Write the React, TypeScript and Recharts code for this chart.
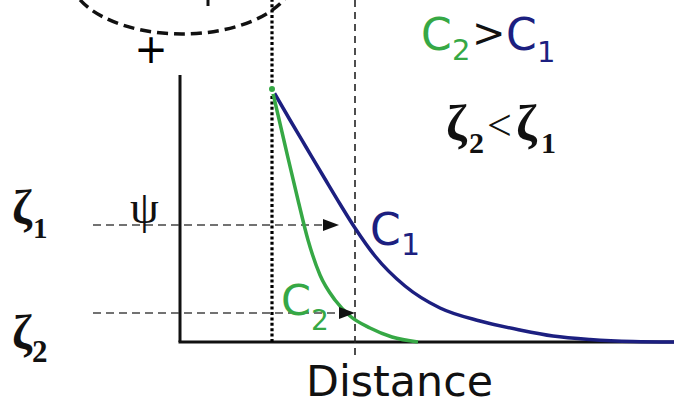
import {
  ComposedChart,
  Line,
  XAxis,
  YAxis,
  ReferenceLine,
  ReferenceDot,
} from "recharts";

// distance from the surface (arbitrary units) and potential psi
const c1Distance = [9.2, 11.0, 12.6, 14.5, 16.0, 17.5, 19.5, 22.5, 26.0, 30.0, 34.0, 37.3, 41.0, 45.3, 49.4];
const c1Psi = [25.3, 22.2, 19.5, 16.3, 13.8, 11.4, 8.6, 5.6, 3.4, 2.1, 1.2, 0.6, 0.25, 0.05, 0.0];

const c2Distance = [9.2, 10.5, 11.8, 12.8, 14.0, 15.5, 17.0, 19.0, 21.2, 23.8];
const c2Psi = [25.3, 19.7, 14.2, 10.2, 6.7, 4.2, 2.6, 1.4, 0.5, 0.0];

const zetaLevels = [11.7, 2.9];
const zetaArrowTips = [15.9, 17.5];
const wallDistance = 9.2;
const shearDistance = 17.5;

const C1_COLOR = "#1c1f80";
const C2_COLOR = "#36a845";

const toPoints = (ds: number[], ps: number[]) =>
  ds.map((d, i) => ({ d, psi: ps[i] }));

const c1Data = toPoints(c1Distance, c1Psi);
const c2Data = toPoints(c2Distance, c2Psi);

function Arrowhead(props: any) {
  const { cx, cy } = props;
  return (
    <path
      d={`M${cx},${cy} L${cx - 16},${cy - 6} L${cx - 16},${cy + 6} Z`}
      fill="#111"
    />
  );
}

const serif = "'Liberation Serif', 'Times New Roman', serif";
const sans = "'DejaVu Sans', Verdana, sans-serif";

export default function App() {
  return (
    <div
      style={{
        position: "absolute",
        left: 0,
        top: 0,
        width: 674,
        height: 407,
        background: "#fff",
      }}
    >
      <ComposedChart
        width={674}
        height={407}
        margin={{ top: 0, right: 0, bottom: 0, left: 0 }}
      >
        <XAxis
          type="number"
          dataKey="d"
          domain={[-18, 49.4]}
          allowDataOverflow
          hide
        />
        <YAxis type="number" domain={[-6.5, 34.2]} allowDataOverflow hide />

        {/* axes */}
        <ReferenceLine
          segment={[{ x: 0, y: 0 }, { x: 0, y: 26.7 }]}
          stroke="#111"
          strokeWidth={3}
          ifOverflow="visible"
        />
        <ReferenceLine
          segment={[{ x: -0.15, y: 0 }, { x: 49.4, y: 0 }]}
          stroke="#111"
          strokeWidth={3}
          ifOverflow="visible"
        />

        {/* surface (dotted) and shear plane (dashed) */}
        <ReferenceLine
          segment={[{ x: wallDistance, y: 0 }, { x: wallDistance, y: 34.2 }]}
          stroke="#000"
          strokeWidth={3.2}
          strokeDasharray="3 2.4"
          ifOverflow="visible"
        />
        <ReferenceLine
          segment={[{ x: shearDistance, y: -1.3 }, { x: shearDistance, y: 34.2 }]}
          stroke="#222"
          strokeWidth={1.6}
          strokeDasharray="7 5"
          ifOverflow="visible"
        />

        {/* zeta potential levels */}
        {zetaLevels.map((z, i) => (
          <ReferenceLine
            key={`z${i}`}
            segment={[{ x: -8.7, y: z }, { x: zetaArrowTips[i] - 1.2, y: z }]}
            stroke="#444"
            strokeWidth={1.6}
            strokeDasharray="8 5"
            ifOverflow="visible"
          />
        ))}
        {zetaLevels.map((z, i) => (
          <ReferenceDot
            key={`a${i}`}
            x={zetaArrowTips[i]}
            y={z}
            ifOverflow="visible"
            shape={Arrowhead}
          />
        ))}

        <Line
          data={c1Data}
          dataKey="psi"
          type="monotone"
          stroke={C1_COLOR}
          strokeWidth={3.5}
          dot={false}
          isAnimationActive={false}
        />
        <Line
          data={c2Data}
          dataKey="psi"
          type="monotone"
          stroke={C2_COLOR}
          strokeWidth={3.5}
          dot={false}
          isAnimationActive={false}
        />
      </ComposedChart>

      <svg
        width={674}
        height={407}
        style={{ position: "absolute", left: 0, top: 0, pointerEvents: "none" }}
      >
        <ellipse
          cx={182}
          cy={-26}
          rx={113}
          ry={60}
          fill="none"
          stroke="#111"
          strokeWidth={3.5}
          strokeDasharray="11 6"
        />
        <text x={151} y={63} fontFamily={sans} fontSize={40} textAnchor="middle">+</text>
        <line x1={208} y1={0} x2={208} y2={6} stroke="#111" strokeWidth={3} />

        {/* C2 > C1 */}
        <text x={421} y={50} fontFamily={sans} fontSize={44} fill={C2_COLOR}>C</text>
        <text x={452} y={60} fontFamily={sans} fontSize={29} fill={C2_COLOR}>2</text>
        <text x={472} y={47} fontFamily={sans} fontSize={40} fill="#111">&gt;</text>
        <text x={506} y={50} fontFamily={sans} fontSize={44} fill={C1_COLOR}>C</text>
        <text x={537} y={62} fontFamily={sans} fontSize={29} fill={C1_COLOR}>1</text>

        {/* zeta2 < zeta1 */}
        <g fontFamily={serif} fontWeight="bold" fill="#111">
          <text x={446} y={140} fontSize={50}>ζ</text>
          <text x={469} y={153} fontSize={30}>2</text>
          <text x={487} y={140} fontSize={44} fontWeight="normal">&lt;</text>
          <text x={516} y={140} fontSize={50}>ζ</text>
          <text x={541} y={153} fontSize={30}>1</text>
        </g>

        {/* left labels */}
        <g fontFamily={serif} fontWeight="bold" fill="#111">
          <text x={12} y={223} fontSize={48}>ζ</text>
          <text x={33} y={238} fontSize={29}>1</text>
          <text x={12} y={348} fontSize={48}>ζ</text>
          <text x={32} y={362} fontSize={31}>2</text>
        </g>
        <text x={130} y={223} fontFamily={serif} fontSize={46} fill="#111">ψ</text>

        {/* curve labels */}
        <text x={370} y={245} fontFamily={sans} fontSize={44} fill={C1_COLOR}>C</text>
        <text x={401} y={255} fontFamily={sans} fontSize={30} fill={C1_COLOR}>1</text>
        <text x={281} y={315} fontFamily={sans} fontSize={43} fill={C2_COLOR}>C</text>
        <text x={311} y={330} fontFamily={sans} fontSize={28} fill={C2_COLOR}>2</text>

        <text
          x={306}
          y={396}
          fontFamily={sans}
          fontSize={43}
          fill="#111"
          textLength={187}
          lengthAdjust="spacingAndGlyphs"
        >
          Distance
        </text>
      </svg>
    </div>
  );
}
